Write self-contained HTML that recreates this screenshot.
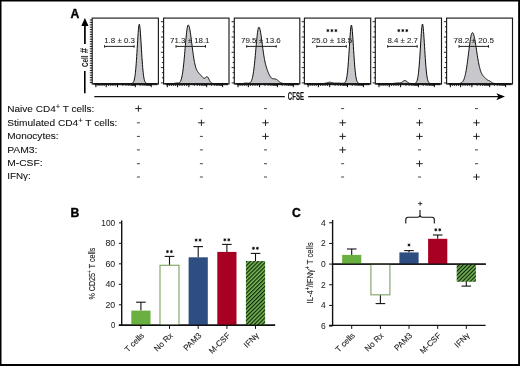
<!DOCTYPE html><html><head><meta charset="utf-8"><style>html,body{margin:0;padding:0;background:#fff;}svg{display:block;will-change:transform;}</style></head><body>
<svg width="520" height="366" viewBox="0 0 520 366" font-family='"Liberation Sans", sans-serif'>
<defs><pattern id="hatch" patternUnits="userSpaceOnUse" width="2.78" height="2.78" patternTransform="rotate(45)"><rect width="2.78" height="2.78" fill="#7cba5a"/><rect width="1.2" height="2.78" fill="#0a2405"/></pattern></defs>
<rect width="520" height="366" fill="#fff"/>
<text x="70.6" y="17.6" font-size="12.2" font-weight="bold" fill="#000" stroke="#000" stroke-width="0.35">A</text>
<path d="M84.9,18.1 L88.5,26 L81.3,26 Z" fill="#000"/>
<line x1="84.9" y1="24" x2="84.9" y2="44.0" stroke="#000" stroke-width="1.7"/>
<line x1="84.8" y1="71.1" x2="84.8" y2="93.3" stroke="#000" stroke-width="1.6"/>
<text transform="translate(87.6,67.1) rotate(-90)" font-size="9.9" font-weight="bold" fill="#1a1a1a" textLength="11.6" lengthAdjust="spacingAndGlyphs">Cell</text>
<text transform="translate(87.6,53.2) rotate(-90)" font-size="10" font-weight="bold" fill="#1a1a1a" textLength="5.4" lengthAdjust="spacingAndGlyphs">#</text>
<path d="M93.20,83.60 L93.20,83.60 L93.45,83.60 L93.70,83.60 L93.95,83.60 L94.20,83.60 L94.45,83.60 L94.70,83.60 L94.95,83.60 L95.20,83.60 L95.45,83.60 L95.70,83.60 L95.95,83.60 L96.20,83.60 L96.45,83.60 L96.70,83.60 L96.95,83.60 L97.20,83.60 L97.45,83.60 L97.70,83.60 L97.95,83.60 L98.20,83.60 L98.45,83.60 L98.70,83.60 L98.95,83.60 L99.20,83.60 L99.45,83.60 L99.70,83.60 L99.95,83.60 L100.20,83.60 L100.45,83.60 L100.70,83.60 L100.95,83.60 L101.20,83.60 L101.45,83.60 L101.70,83.60 L101.95,83.60 L102.20,83.60 L102.45,83.60 L102.70,83.60 L102.95,83.60 L103.20,83.60 L103.45,83.60 L103.70,83.60 L103.95,83.60 L104.20,83.60 L104.45,83.60 L104.70,83.60 L104.95,83.60 L105.20,83.60 L105.45,83.60 L105.70,83.60 L105.95,83.60 L106.20,83.60 L106.45,83.60 L106.70,83.60 L106.95,83.60 L107.20,83.60 L107.45,83.60 L107.70,83.60 L107.95,83.60 L108.20,83.60 L108.45,83.60 L108.70,83.60 L108.95,83.60 L109.20,83.60 L109.45,83.60 L109.70,83.60 L109.95,83.60 L110.20,83.60 L110.45,83.60 L110.70,83.60 L110.95,83.60 L111.20,83.60 L111.45,83.60 L111.70,83.60 L111.95,83.60 L112.20,83.60 L112.45,83.60 L112.70,83.60 L112.95,83.60 L113.20,83.60 L113.45,83.60 L113.70,83.60 L113.95,83.60 L114.20,83.60 L114.45,83.60 L114.70,83.60 L114.95,83.60 L115.20,83.60 L115.45,83.60 L115.70,83.60 L115.95,83.60 L116.20,83.60 L116.45,83.60 L116.70,83.60 L116.95,83.60 L117.20,83.60 L117.45,83.60 L117.70,83.60 L117.95,83.60 L118.20,83.60 L118.45,83.60 L118.70,83.60 L118.95,83.60 L119.20,83.60 L119.45,83.60 L119.70,83.60 L119.95,83.60 L120.20,83.60 L120.45,83.60 L120.70,83.60 L120.95,83.60 L121.20,83.60 L121.45,83.60 L121.70,83.60 L121.95,83.60 L122.20,83.60 L122.45,83.60 L122.70,83.60 L122.95,83.60 L123.20,83.60 L123.45,83.60 L123.70,83.60 L123.95,83.60 L124.20,83.60 L124.45,83.60 L124.70,83.60 L124.95,83.60 L125.20,83.60 L125.45,83.60 L125.70,83.60 L125.95,83.60 L126.20,83.60 L126.45,83.60 L126.70,83.60 L126.95,83.60 L127.20,83.60 L127.45,83.60 L127.70,83.60 L127.95,83.60 L128.20,83.60 L128.45,83.60 L128.70,83.60 L128.95,83.60 L129.20,83.60 L129.45,83.60 L129.70,83.60 L129.95,83.59 L130.20,83.59 L130.45,83.58 L130.70,83.57 L130.95,83.56 L131.20,83.53 L131.45,83.50 L131.70,83.46 L131.95,83.39 L132.20,83.30 L132.45,83.18 L132.70,83.01 L132.95,82.78 L133.20,82.48 L133.45,82.08 L133.70,81.57 L133.95,80.91 L134.20,80.08 L134.45,79.04 L134.70,77.77 L134.95,76.24 L135.20,74.41 L135.45,72.26 L135.70,69.77 L135.95,66.94 L136.20,63.77 L136.45,60.28 L136.70,56.52 L136.95,52.53 L137.20,48.41 L137.45,44.23 L137.70,40.13 L137.95,36.22 L138.20,32.64 L138.45,29.52 L138.70,27.01 L138.95,25.22 L139.20,24.30 L139.45,24.41 L139.70,25.52 L139.95,27.46 L140.20,30.10 L140.45,33.32 L140.70,36.98 L140.95,40.94 L141.20,45.07 L141.45,49.24 L141.70,53.34 L141.95,57.29 L142.20,61.00 L142.45,64.43 L142.70,67.53 L142.95,70.30 L143.20,72.72 L143.45,74.80 L143.70,76.57 L143.95,78.05 L144.20,79.27 L144.45,80.26 L144.70,81.05 L144.95,81.68 L145.20,82.17 L145.45,82.55 L145.70,82.83 L145.95,83.05 L146.20,83.21 L146.45,83.32 L146.70,83.41 L146.95,83.47 L147.20,83.51 L147.45,83.54 L147.70,83.56 L147.95,83.57 L148.20,83.58 L148.45,83.59 L148.70,83.59 L148.95,83.60 L149.20,83.60 L149.45,83.60 L149.70,83.60 L149.95,83.60 L150.20,83.60 L150.45,83.60 L150.70,83.60 L150.95,83.60 L151.20,83.60 L151.45,83.60 L151.70,83.60 L151.95,83.60 L152.20,83.60 L152.45,83.60 L152.70,83.60 L152.95,83.60 L153.20,83.60 L153.45,83.60 L153.70,83.60 L153.95,83.60 L154.20,83.60 L154.45,83.60 L154.70,83.60 L154.95,83.60 L155.20,83.60 L155.45,83.60 L155.70,83.60 L155.95,83.60 L156.20,83.60 L156.45,83.60 L156.70,83.60 L156.95,83.60 L157.20,83.60 L157.40,83.60 Z" fill="#c8c8cc" stroke="#000" stroke-width="0.95" stroke-linejoin="round"/>
<rect x="92.20" y="18.10" width="66.20" height="65.90" fill="none" stroke="#1a1a1a" stroke-width="1.15"/>
<line x1="89.80" y1="20.00" x2="92.20" y2="20.00" stroke="#000" stroke-width="0.9"/>
<line x1="89.80" y1="22.40" x2="92.20" y2="22.40" stroke="#000" stroke-width="0.9"/>
<line x1="89.80" y1="24.80" x2="92.20" y2="24.80" stroke="#000" stroke-width="0.9"/>
<line x1="89.80" y1="27.20" x2="92.20" y2="27.20" stroke="#000" stroke-width="0.9"/>
<line x1="89.80" y1="29.60" x2="92.20" y2="29.60" stroke="#000" stroke-width="0.9"/>
<line x1="89.80" y1="32.00" x2="92.20" y2="32.00" stroke="#000" stroke-width="0.9"/>
<line x1="89.80" y1="34.40" x2="92.20" y2="34.40" stroke="#000" stroke-width="0.9"/>
<line x1="89.80" y1="36.80" x2="92.20" y2="36.80" stroke="#000" stroke-width="0.9"/>
<line x1="89.80" y1="39.20" x2="92.20" y2="39.20" stroke="#000" stroke-width="0.9"/>
<line x1="89.80" y1="41.60" x2="92.20" y2="41.60" stroke="#000" stroke-width="0.9"/>
<line x1="89.80" y1="44.00" x2="92.20" y2="44.00" stroke="#000" stroke-width="0.9"/>
<line x1="89.80" y1="46.40" x2="92.20" y2="46.40" stroke="#000" stroke-width="0.9"/>
<line x1="89.80" y1="48.80" x2="92.20" y2="48.80" stroke="#000" stroke-width="0.9"/>
<line x1="89.80" y1="51.20" x2="92.20" y2="51.20" stroke="#000" stroke-width="0.9"/>
<line x1="89.80" y1="53.60" x2="92.20" y2="53.60" stroke="#000" stroke-width="0.9"/>
<line x1="89.80" y1="56.00" x2="92.20" y2="56.00" stroke="#000" stroke-width="0.9"/>
<line x1="89.80" y1="58.40" x2="92.20" y2="58.40" stroke="#000" stroke-width="0.9"/>
<line x1="89.80" y1="60.80" x2="92.20" y2="60.80" stroke="#000" stroke-width="0.9"/>
<line x1="89.80" y1="63.20" x2="92.20" y2="63.20" stroke="#000" stroke-width="0.9"/>
<line x1="89.80" y1="65.60" x2="92.20" y2="65.60" stroke="#000" stroke-width="0.9"/>
<line x1="89.80" y1="68.00" x2="92.20" y2="68.00" stroke="#000" stroke-width="0.9"/>
<line x1="89.80" y1="70.40" x2="92.20" y2="70.40" stroke="#000" stroke-width="0.9"/>
<line x1="89.80" y1="72.80" x2="92.20" y2="72.80" stroke="#000" stroke-width="0.9"/>
<line x1="89.80" y1="75.20" x2="92.20" y2="75.20" stroke="#000" stroke-width="0.9"/>
<line x1="89.80" y1="77.60" x2="92.20" y2="77.60" stroke="#000" stroke-width="0.9"/>
<line x1="89.80" y1="80.00" x2="92.20" y2="80.00" stroke="#000" stroke-width="0.9"/>
<line x1="89.80" y1="82.40" x2="92.20" y2="82.40" stroke="#000" stroke-width="0.9"/>
<line x1="94.70" y1="84.7" x2="157.40" y2="84.7" stroke="#000" stroke-width="0.9"/>
<line x1="95.90" y1="84.00" x2="95.90" y2="87.20" stroke="#000" stroke-width="1"/>
<line x1="106.20" y1="84.00" x2="106.20" y2="87.20" stroke="#000" stroke-width="1"/>
<line x1="117.50" y1="84.00" x2="117.50" y2="87.20" stroke="#000" stroke-width="1"/>
<line x1="135.30" y1="84.00" x2="135.30" y2="87.20" stroke="#000" stroke-width="1"/>
<line x1="151.20" y1="84.00" x2="151.20" y2="87.20" stroke="#000" stroke-width="1"/>
<line x1="122.86" y1="84.00" x2="122.86" y2="86.00" stroke="#111" stroke-width="0.8"/>
<line x1="140.09" y1="84.00" x2="140.09" y2="86.00" stroke="#111" stroke-width="0.8"/>
<line x1="125.99" y1="84.00" x2="125.99" y2="86.00" stroke="#111" stroke-width="0.8"/>
<line x1="142.89" y1="84.00" x2="142.89" y2="86.00" stroke="#111" stroke-width="0.8"/>
<line x1="128.22" y1="84.00" x2="128.22" y2="86.00" stroke="#111" stroke-width="0.8"/>
<line x1="144.87" y1="84.00" x2="144.87" y2="86.00" stroke="#111" stroke-width="0.8"/>
<line x1="129.94" y1="84.00" x2="129.94" y2="86.00" stroke="#111" stroke-width="0.8"/>
<line x1="146.41" y1="84.00" x2="146.41" y2="86.00" stroke="#111" stroke-width="0.8"/>
<line x1="131.35" y1="84.00" x2="131.35" y2="86.00" stroke="#111" stroke-width="0.8"/>
<line x1="147.67" y1="84.00" x2="147.67" y2="86.00" stroke="#111" stroke-width="0.8"/>
<line x1="132.54" y1="84.00" x2="132.54" y2="86.00" stroke="#111" stroke-width="0.8"/>
<line x1="148.74" y1="84.00" x2="148.74" y2="86.00" stroke="#111" stroke-width="0.8"/>
<line x1="133.58" y1="84.00" x2="133.58" y2="86.00" stroke="#111" stroke-width="0.8"/>
<line x1="149.66" y1="84.00" x2="149.66" y2="86.00" stroke="#111" stroke-width="0.8"/>
<line x1="134.49" y1="84.00" x2="134.49" y2="86.00" stroke="#111" stroke-width="0.8"/>
<line x1="150.47" y1="84.00" x2="150.47" y2="86.00" stroke="#111" stroke-width="0.8"/>
<line x1="97.96" y1="84.00" x2="97.96" y2="86.00" stroke="#111" stroke-width="0.8"/>
<line x1="108.46" y1="84.00" x2="108.46" y2="86.00" stroke="#111" stroke-width="0.8"/>
<line x1="100.02" y1="84.00" x2="100.02" y2="86.00" stroke="#111" stroke-width="0.8"/>
<line x1="110.72" y1="84.00" x2="110.72" y2="86.00" stroke="#111" stroke-width="0.8"/>
<line x1="102.08" y1="84.00" x2="102.08" y2="86.00" stroke="#111" stroke-width="0.8"/>
<line x1="112.98" y1="84.00" x2="112.98" y2="86.00" stroke="#111" stroke-width="0.8"/>
<line x1="104.14" y1="84.00" x2="104.14" y2="86.00" stroke="#111" stroke-width="0.8"/>
<line x1="115.24" y1="84.00" x2="115.24" y2="86.00" stroke="#111" stroke-width="0.8"/>
<line x1="104.60" y1="46.4" x2="134.10" y2="46.4" stroke="#222" stroke-width="1"/>
<line x1="104.60" y1="45.1" x2="104.60" y2="47.7" stroke="#222" stroke-width="1"/>
<line x1="134.10" y1="45.1" x2="134.10" y2="47.7" stroke="#222" stroke-width="1"/>
<text x="104.20" y="43.2" font-size="7.1" fill="#222" stroke="#222" stroke-width="0.05" textLength="30.80" lengthAdjust="spacingAndGlyphs">1.8 ± 0.3</text>
<path d="M164.60,83.60 L164.60,83.60 L164.85,83.60 L165.10,83.60 L165.35,83.60 L165.60,83.60 L165.85,83.60 L166.10,83.60 L166.35,83.60 L166.60,83.60 L166.85,83.60 L167.10,83.60 L167.35,83.60 L167.60,83.60 L167.85,83.60 L168.10,83.60 L168.35,83.60 L168.60,83.60 L168.85,83.60 L169.10,83.60 L169.35,83.60 L169.60,83.60 L169.85,83.60 L170.10,83.60 L170.35,83.60 L170.60,83.60 L170.85,83.60 L171.10,83.60 L171.35,83.60 L171.60,83.60 L171.85,83.60 L172.10,83.59 L172.35,83.59 L172.60,83.58 L172.85,83.57 L173.10,83.55 L173.35,83.53 L173.60,83.51 L173.85,83.47 L174.10,83.43 L174.35,83.38 L174.60,83.33 L174.85,83.27 L175.10,83.21 L175.35,83.15 L175.60,83.09 L175.85,83.04 L176.10,83.00 L176.35,82.98 L176.60,82.96 L176.85,82.96 L177.10,82.98 L177.35,82.99 L177.60,83.01 L177.85,83.03 L178.10,83.04 L178.35,83.02 L178.60,82.99 L178.85,82.92 L179.10,82.82 L179.35,82.68 L179.60,82.48 L179.85,82.23 L180.10,81.92 L180.35,81.52 L180.60,81.05 L180.85,80.48 L181.10,79.80 L181.35,79.01 L181.60,78.08 L181.85,77.02 L182.10,75.80 L182.35,74.41 L182.60,72.86 L182.85,71.13 L183.10,69.22 L183.35,67.13 L183.60,64.87 L183.85,62.45 L184.10,59.88 L184.35,57.17 L184.60,54.37 L184.85,51.48 L185.10,48.55 L185.35,45.62 L185.60,42.73 L185.85,39.91 L186.10,37.22 L186.35,34.70 L186.60,32.39 L186.85,30.34 L187.10,28.58 L187.35,27.15 L187.60,26.06 L187.85,25.35 L188.10,25.02 L188.35,25.00 L188.60,25.22 L188.85,25.67 L189.10,26.34 L189.35,27.23 L189.60,28.31 L189.85,29.57 L190.10,31.00 L190.35,32.57 L190.60,34.27 L190.85,36.07 L191.10,37.96 L191.35,39.90 L191.60,41.89 L191.85,43.89 L192.10,45.89 L192.35,47.87 L192.60,49.81 L192.85,51.71 L193.10,53.53 L193.35,55.29 L193.60,56.96 L193.85,58.54 L194.10,60.02 L194.35,61.40 L194.60,62.69 L194.85,63.87 L195.10,64.96 L195.35,65.95 L195.60,66.85 L195.85,67.66 L196.10,68.40 L196.35,69.06 L196.60,69.66 L196.85,70.19 L197.10,70.68 L197.35,71.11 L197.60,71.51 L197.85,71.87 L198.10,72.21 L198.35,72.53 L198.60,72.82 L198.85,73.11 L199.10,73.38 L199.35,73.65 L199.60,73.92 L199.85,74.19 L200.10,74.46 L200.35,74.73 L200.60,75.00 L200.85,75.28 L201.10,75.55 L201.35,75.84 L201.60,76.12 L201.85,76.40 L202.10,76.67 L202.35,76.94 L202.60,77.20 L202.85,77.44 L203.10,77.66 L203.35,77.84 L203.60,78.00 L203.85,78.11 L204.10,78.17 L204.35,78.18 L204.60,78.14 L204.85,78.05 L205.10,77.91 L205.35,77.73 L205.60,77.52 L205.85,77.30 L206.10,77.09 L206.35,76.90 L206.60,76.75 L206.85,76.68 L207.10,76.67 L207.35,76.76 L207.60,76.94 L207.85,77.21 L208.10,77.57 L208.35,77.99 L208.60,78.47 L208.85,78.99 L209.10,79.52 L209.35,80.05 L209.60,80.56 L209.85,81.04 L210.10,81.47 L210.35,81.86 L210.60,82.19 L210.85,82.48 L211.10,82.71 L211.35,82.90 L211.60,83.06 L211.85,83.18 L212.10,83.27 L212.35,83.34 L212.60,83.40 L212.85,83.44 L213.10,83.47 L213.35,83.50 L213.60,83.52 L213.85,83.53 L214.10,83.54 L214.35,83.55 L214.60,83.56 L214.85,83.57 L215.10,83.57 L215.35,83.58 L215.60,83.58 L215.85,83.58 L216.10,83.59 L216.35,83.59 L216.60,83.59 L216.85,83.59 L217.10,83.59 L217.35,83.59 L217.60,83.60 L217.85,83.60 L218.10,83.60 L218.35,83.60 L218.60,83.60 L218.85,83.60 L219.10,83.60 L219.35,83.60 L219.60,83.60 L219.85,83.60 L220.10,83.60 L220.35,83.60 L220.60,83.60 L220.85,83.60 L221.10,83.60 L221.35,83.60 L221.60,83.60 L221.85,83.60 L222.10,83.60 L222.35,83.60 L222.60,83.60 L222.85,83.60 L223.10,83.60 L223.35,83.60 L223.60,83.60 L223.85,83.60 L224.10,83.60 L224.35,83.60 L224.60,83.60 L224.85,83.60 L225.10,83.60 L225.35,83.60 L225.60,83.60 L225.85,83.60 L226.10,83.60 L226.35,83.60 L226.60,83.60 L226.85,83.60 L227.10,83.60 L227.35,83.60 L227.60,83.60 L227.85,83.60 L228.00,83.60 Z" fill="#c8c8cc" stroke="#000" stroke-width="0.95" stroke-linejoin="round"/>
<rect x="163.60" y="18.10" width="65.40" height="65.90" fill="none" stroke="#1a1a1a" stroke-width="1.15"/>
<line x1="160.90" y1="21.70" x2="163.60" y2="21.70" stroke="#111" stroke-width="0.9"/>
<line x1="161.90" y1="26.80" x2="163.60" y2="26.80" stroke="#111" stroke-width="0.9"/>
<line x1="161.90" y1="31.90" x2="163.60" y2="31.90" stroke="#111" stroke-width="0.9"/>
<line x1="160.90" y1="37.00" x2="163.60" y2="37.00" stroke="#111" stroke-width="0.9"/>
<line x1="161.90" y1="42.10" x2="163.60" y2="42.10" stroke="#111" stroke-width="0.9"/>
<line x1="161.90" y1="47.20" x2="163.60" y2="47.20" stroke="#111" stroke-width="0.9"/>
<line x1="160.90" y1="52.30" x2="163.60" y2="52.30" stroke="#111" stroke-width="0.9"/>
<line x1="161.90" y1="57.40" x2="163.60" y2="57.40" stroke="#111" stroke-width="0.9"/>
<line x1="161.90" y1="62.50" x2="163.60" y2="62.50" stroke="#111" stroke-width="0.9"/>
<line x1="160.90" y1="67.60" x2="163.60" y2="67.60" stroke="#111" stroke-width="0.9"/>
<line x1="161.90" y1="72.70" x2="163.60" y2="72.70" stroke="#111" stroke-width="0.9"/>
<line x1="161.90" y1="77.80" x2="163.60" y2="77.80" stroke="#111" stroke-width="0.9"/>
<line x1="160.90" y1="82.90" x2="163.60" y2="82.90" stroke="#111" stroke-width="0.9"/>
<line x1="166.10" y1="84.7" x2="228.00" y2="84.7" stroke="#000" stroke-width="0.9"/>
<line x1="167.30" y1="84.00" x2="167.30" y2="87.20" stroke="#000" stroke-width="1"/>
<line x1="177.60" y1="84.00" x2="177.60" y2="87.20" stroke="#000" stroke-width="1"/>
<line x1="188.90" y1="84.00" x2="188.90" y2="87.20" stroke="#000" stroke-width="1"/>
<line x1="206.70" y1="84.00" x2="206.70" y2="87.20" stroke="#000" stroke-width="1"/>
<line x1="222.60" y1="84.00" x2="222.60" y2="87.20" stroke="#000" stroke-width="1"/>
<line x1="194.26" y1="84.00" x2="194.26" y2="86.00" stroke="#111" stroke-width="0.8"/>
<line x1="211.49" y1="84.00" x2="211.49" y2="86.00" stroke="#111" stroke-width="0.8"/>
<line x1="197.39" y1="84.00" x2="197.39" y2="86.00" stroke="#111" stroke-width="0.8"/>
<line x1="214.29" y1="84.00" x2="214.29" y2="86.00" stroke="#111" stroke-width="0.8"/>
<line x1="199.62" y1="84.00" x2="199.62" y2="86.00" stroke="#111" stroke-width="0.8"/>
<line x1="216.27" y1="84.00" x2="216.27" y2="86.00" stroke="#111" stroke-width="0.8"/>
<line x1="201.34" y1="84.00" x2="201.34" y2="86.00" stroke="#111" stroke-width="0.8"/>
<line x1="217.81" y1="84.00" x2="217.81" y2="86.00" stroke="#111" stroke-width="0.8"/>
<line x1="202.75" y1="84.00" x2="202.75" y2="86.00" stroke="#111" stroke-width="0.8"/>
<line x1="219.07" y1="84.00" x2="219.07" y2="86.00" stroke="#111" stroke-width="0.8"/>
<line x1="203.94" y1="84.00" x2="203.94" y2="86.00" stroke="#111" stroke-width="0.8"/>
<line x1="220.14" y1="84.00" x2="220.14" y2="86.00" stroke="#111" stroke-width="0.8"/>
<line x1="204.98" y1="84.00" x2="204.98" y2="86.00" stroke="#111" stroke-width="0.8"/>
<line x1="221.06" y1="84.00" x2="221.06" y2="86.00" stroke="#111" stroke-width="0.8"/>
<line x1="205.89" y1="84.00" x2="205.89" y2="86.00" stroke="#111" stroke-width="0.8"/>
<line x1="221.87" y1="84.00" x2="221.87" y2="86.00" stroke="#111" stroke-width="0.8"/>
<line x1="169.36" y1="84.00" x2="169.36" y2="86.00" stroke="#111" stroke-width="0.8"/>
<line x1="179.86" y1="84.00" x2="179.86" y2="86.00" stroke="#111" stroke-width="0.8"/>
<line x1="171.42" y1="84.00" x2="171.42" y2="86.00" stroke="#111" stroke-width="0.8"/>
<line x1="182.12" y1="84.00" x2="182.12" y2="86.00" stroke="#111" stroke-width="0.8"/>
<line x1="173.48" y1="84.00" x2="173.48" y2="86.00" stroke="#111" stroke-width="0.8"/>
<line x1="184.38" y1="84.00" x2="184.38" y2="86.00" stroke="#111" stroke-width="0.8"/>
<line x1="175.54" y1="84.00" x2="175.54" y2="86.00" stroke="#111" stroke-width="0.8"/>
<line x1="186.64" y1="84.00" x2="186.64" y2="86.00" stroke="#111" stroke-width="0.8"/>
<line x1="176.00" y1="46.4" x2="205.50" y2="46.4" stroke="#222" stroke-width="1"/>
<line x1="176.00" y1="45.1" x2="176.00" y2="47.7" stroke="#222" stroke-width="1"/>
<line x1="205.50" y1="45.1" x2="205.50" y2="47.7" stroke="#222" stroke-width="1"/>
<text x="170.10" y="43.2" font-size="7.1" fill="#222" stroke="#222" stroke-width="0.05" textLength="39.40" lengthAdjust="spacingAndGlyphs">71.3 ± 18.1</text>
<path d="M235.30,83.60 L235.30,83.60 L235.55,83.60 L235.80,83.60 L236.05,83.60 L236.30,83.60 L236.55,83.60 L236.80,83.60 L237.05,83.60 L237.30,83.60 L237.55,83.60 L237.80,83.60 L238.05,83.60 L238.30,83.60 L238.55,83.60 L238.80,83.60 L239.05,83.60 L239.30,83.60 L239.55,83.60 L239.80,83.60 L240.05,83.59 L240.30,83.59 L240.55,83.59 L240.80,83.58 L241.05,83.58 L241.30,83.57 L241.55,83.56 L241.80,83.54 L242.05,83.53 L242.30,83.51 L242.55,83.49 L242.80,83.46 L243.05,83.43 L243.30,83.40 L243.55,83.36 L243.80,83.33 L244.05,83.29 L244.30,83.25 L244.55,83.21 L244.80,83.18 L245.05,83.15 L245.30,83.13 L245.55,83.11 L245.80,83.10 L246.05,83.09 L246.30,83.10 L246.55,83.11 L246.80,83.12 L247.05,83.14 L247.30,83.16 L247.55,83.18 L247.80,83.20 L248.05,83.21 L248.30,83.22 L248.55,83.22 L248.80,83.20 L249.05,83.16 L249.30,83.10 L249.55,83.02 L249.80,82.90 L250.05,82.75 L250.30,82.55 L250.55,82.29 L250.80,81.98 L251.05,81.60 L251.30,81.14 L251.55,80.59 L251.80,79.94 L252.05,79.17 L252.30,78.28 L252.55,77.25 L252.80,76.07 L253.05,74.74 L253.30,73.24 L253.55,71.57 L253.80,69.73 L254.05,67.71 L254.30,65.54 L254.55,63.20 L254.80,60.72 L255.05,58.11 L255.30,55.41 L255.55,52.63 L255.80,49.81 L256.05,46.99 L256.30,44.21 L256.55,41.50 L256.80,38.92 L257.05,36.50 L257.30,34.29 L257.55,32.33 L257.80,30.64 L258.05,29.27 L258.30,28.24 L258.55,27.56 L258.80,27.25 L259.05,27.25 L259.30,27.50 L259.55,28.00 L259.80,28.73 L260.05,29.68 L260.30,30.83 L260.55,32.16 L260.80,33.65 L261.05,35.27 L261.30,37.00 L261.55,38.82 L261.80,40.69 L262.05,42.60 L262.30,44.52 L262.55,46.43 L262.80,48.32 L263.05,50.16 L263.30,51.93 L263.55,53.64 L263.80,55.27 L264.05,56.82 L264.30,58.27 L264.55,59.64 L264.80,60.92 L265.05,62.11 L265.30,63.23 L265.55,64.27 L265.80,65.24 L266.05,66.15 L266.30,67.01 L266.55,67.82 L266.80,68.59 L267.05,69.32 L267.30,70.03 L267.55,70.70 L267.80,71.35 L268.05,71.99 L268.30,72.60 L268.55,73.18 L268.80,73.75 L269.05,74.30 L269.30,74.82 L269.55,75.31 L269.80,75.78 L270.05,76.21 L270.30,76.61 L270.55,76.97 L270.80,77.30 L271.05,77.60 L271.30,77.85 L271.55,78.07 L271.80,78.25 L272.05,78.40 L272.30,78.52 L272.55,78.61 L272.80,78.68 L273.05,78.72 L273.30,78.76 L273.55,78.78 L273.80,78.79 L274.05,78.80 L274.30,78.82 L274.55,78.84 L274.80,78.87 L275.05,78.91 L275.30,78.97 L275.55,79.04 L275.80,79.13 L276.05,79.24 L276.30,79.37 L276.55,79.52 L276.80,79.68 L277.05,79.86 L277.30,80.05 L277.55,80.25 L277.80,80.46 L278.05,80.67 L278.30,80.89 L278.55,81.10 L278.80,81.31 L279.05,81.52 L279.30,81.72 L279.55,81.91 L279.80,82.10 L280.05,82.27 L280.30,82.43 L280.55,82.57 L280.80,82.71 L281.05,82.83 L281.30,82.94 L281.55,83.04 L281.80,83.12 L282.05,83.20 L282.30,83.26 L282.55,83.32 L282.80,83.37 L283.05,83.41 L283.30,83.45 L283.55,83.48 L283.80,83.50 L284.05,83.52 L284.30,83.54 L284.55,83.55 L284.80,83.56 L285.05,83.57 L285.30,83.58 L285.55,83.58 L285.80,83.59 L286.05,83.59 L286.30,83.59 L286.55,83.59 L286.80,83.60 L287.05,83.60 L287.30,83.60 L287.55,83.60 L287.80,83.60 L288.05,83.60 L288.30,83.60 L288.55,83.60 L288.80,83.60 L289.05,83.60 L289.30,83.60 L289.55,83.60 L289.80,83.60 L290.05,83.60 L290.30,83.60 L290.55,83.60 L290.80,83.60 L291.05,83.60 L291.30,83.60 L291.55,83.60 L291.80,83.60 L292.05,83.60 L292.30,83.60 L292.55,83.60 L292.80,83.60 L293.05,83.60 L293.30,83.60 L293.55,83.60 L293.80,83.60 L294.05,83.60 L294.30,83.60 L294.55,83.60 L294.80,83.60 L295.05,83.60 L295.30,83.60 L295.55,83.60 L295.80,83.60 L296.05,83.60 L296.30,83.60 L296.55,83.60 L296.80,83.60 L297.05,83.60 L297.30,83.60 L297.55,83.60 L297.80,83.60 L298.05,83.60 L298.30,83.60 L298.55,83.60 L298.80,83.60 L298.80,83.60 Z" fill="#c8c8cc" stroke="#000" stroke-width="0.95" stroke-linejoin="round"/>
<rect x="234.30" y="18.10" width="65.50" height="65.90" fill="none" stroke="#1a1a1a" stroke-width="1.15"/>
<line x1="231.60" y1="21.70" x2="234.30" y2="21.70" stroke="#111" stroke-width="0.9"/>
<line x1="232.60" y1="26.80" x2="234.30" y2="26.80" stroke="#111" stroke-width="0.9"/>
<line x1="232.60" y1="31.90" x2="234.30" y2="31.90" stroke="#111" stroke-width="0.9"/>
<line x1="231.60" y1="37.00" x2="234.30" y2="37.00" stroke="#111" stroke-width="0.9"/>
<line x1="232.60" y1="42.10" x2="234.30" y2="42.10" stroke="#111" stroke-width="0.9"/>
<line x1="232.60" y1="47.20" x2="234.30" y2="47.20" stroke="#111" stroke-width="0.9"/>
<line x1="231.60" y1="52.30" x2="234.30" y2="52.30" stroke="#111" stroke-width="0.9"/>
<line x1="232.60" y1="57.40" x2="234.30" y2="57.40" stroke="#111" stroke-width="0.9"/>
<line x1="232.60" y1="62.50" x2="234.30" y2="62.50" stroke="#111" stroke-width="0.9"/>
<line x1="231.60" y1="67.60" x2="234.30" y2="67.60" stroke="#111" stroke-width="0.9"/>
<line x1="232.60" y1="72.70" x2="234.30" y2="72.70" stroke="#111" stroke-width="0.9"/>
<line x1="232.60" y1="77.80" x2="234.30" y2="77.80" stroke="#111" stroke-width="0.9"/>
<line x1="231.60" y1="82.90" x2="234.30" y2="82.90" stroke="#111" stroke-width="0.9"/>
<line x1="236.80" y1="84.7" x2="298.80" y2="84.7" stroke="#000" stroke-width="0.9"/>
<line x1="238.00" y1="84.00" x2="238.00" y2="87.20" stroke="#000" stroke-width="1"/>
<line x1="248.30" y1="84.00" x2="248.30" y2="87.20" stroke="#000" stroke-width="1"/>
<line x1="259.60" y1="84.00" x2="259.60" y2="87.20" stroke="#000" stroke-width="1"/>
<line x1="277.40" y1="84.00" x2="277.40" y2="87.20" stroke="#000" stroke-width="1"/>
<line x1="293.30" y1="84.00" x2="293.30" y2="87.20" stroke="#000" stroke-width="1"/>
<line x1="264.96" y1="84.00" x2="264.96" y2="86.00" stroke="#111" stroke-width="0.8"/>
<line x1="282.19" y1="84.00" x2="282.19" y2="86.00" stroke="#111" stroke-width="0.8"/>
<line x1="268.09" y1="84.00" x2="268.09" y2="86.00" stroke="#111" stroke-width="0.8"/>
<line x1="284.99" y1="84.00" x2="284.99" y2="86.00" stroke="#111" stroke-width="0.8"/>
<line x1="270.32" y1="84.00" x2="270.32" y2="86.00" stroke="#111" stroke-width="0.8"/>
<line x1="286.97" y1="84.00" x2="286.97" y2="86.00" stroke="#111" stroke-width="0.8"/>
<line x1="272.04" y1="84.00" x2="272.04" y2="86.00" stroke="#111" stroke-width="0.8"/>
<line x1="288.51" y1="84.00" x2="288.51" y2="86.00" stroke="#111" stroke-width="0.8"/>
<line x1="273.45" y1="84.00" x2="273.45" y2="86.00" stroke="#111" stroke-width="0.8"/>
<line x1="289.77" y1="84.00" x2="289.77" y2="86.00" stroke="#111" stroke-width="0.8"/>
<line x1="274.64" y1="84.00" x2="274.64" y2="86.00" stroke="#111" stroke-width="0.8"/>
<line x1="290.84" y1="84.00" x2="290.84" y2="86.00" stroke="#111" stroke-width="0.8"/>
<line x1="275.68" y1="84.00" x2="275.68" y2="86.00" stroke="#111" stroke-width="0.8"/>
<line x1="291.76" y1="84.00" x2="291.76" y2="86.00" stroke="#111" stroke-width="0.8"/>
<line x1="276.59" y1="84.00" x2="276.59" y2="86.00" stroke="#111" stroke-width="0.8"/>
<line x1="292.57" y1="84.00" x2="292.57" y2="86.00" stroke="#111" stroke-width="0.8"/>
<line x1="240.06" y1="84.00" x2="240.06" y2="86.00" stroke="#111" stroke-width="0.8"/>
<line x1="250.56" y1="84.00" x2="250.56" y2="86.00" stroke="#111" stroke-width="0.8"/>
<line x1="242.12" y1="84.00" x2="242.12" y2="86.00" stroke="#111" stroke-width="0.8"/>
<line x1="252.82" y1="84.00" x2="252.82" y2="86.00" stroke="#111" stroke-width="0.8"/>
<line x1="244.18" y1="84.00" x2="244.18" y2="86.00" stroke="#111" stroke-width="0.8"/>
<line x1="255.08" y1="84.00" x2="255.08" y2="86.00" stroke="#111" stroke-width="0.8"/>
<line x1="246.24" y1="84.00" x2="246.24" y2="86.00" stroke="#111" stroke-width="0.8"/>
<line x1="257.34" y1="84.00" x2="257.34" y2="86.00" stroke="#111" stroke-width="0.8"/>
<line x1="246.70" y1="46.4" x2="276.20" y2="46.4" stroke="#222" stroke-width="1"/>
<line x1="246.70" y1="45.1" x2="246.70" y2="47.7" stroke="#222" stroke-width="1"/>
<line x1="276.20" y1="45.1" x2="276.20" y2="47.7" stroke="#222" stroke-width="1"/>
<text x="241.00" y="43.2" font-size="7.1" fill="#222" stroke="#222" stroke-width="0.05" textLength="39.80" lengthAdjust="spacingAndGlyphs">79.5 ± 13.6</text>
<path d="M305.40,83.60 L305.40,83.60 L305.65,83.60 L305.90,83.60 L306.15,83.60 L306.40,83.60 L306.65,83.60 L306.90,83.60 L307.15,83.60 L307.40,83.60 L307.65,83.60 L307.90,83.60 L308.15,83.60 L308.40,83.60 L308.65,83.60 L308.90,83.60 L309.15,83.60 L309.40,83.60 L309.65,83.60 L309.90,83.60 L310.15,83.60 L310.40,83.60 L310.65,83.60 L310.90,83.60 L311.15,83.60 L311.40,83.60 L311.65,83.60 L311.90,83.60 L312.15,83.60 L312.40,83.60 L312.65,83.60 L312.90,83.60 L313.15,83.60 L313.40,83.60 L313.65,83.60 L313.90,83.60 L314.15,83.60 L314.40,83.60 L314.65,83.60 L314.90,83.60 L315.15,83.60 L315.40,83.60 L315.65,83.60 L315.90,83.60 L316.15,83.60 L316.40,83.60 L316.65,83.60 L316.90,83.60 L317.15,83.60 L317.40,83.60 L317.65,83.60 L317.90,83.60 L318.15,83.60 L318.40,83.60 L318.65,83.60 L318.90,83.60 L319.15,83.60 L319.40,83.60 L319.65,83.60 L319.90,83.60 L320.15,83.60 L320.40,83.60 L320.65,83.60 L320.90,83.60 L321.15,83.60 L321.40,83.59 L321.65,83.59 L321.90,83.59 L322.15,83.58 L322.40,83.58 L322.65,83.57 L322.90,83.56 L323.15,83.55 L323.40,83.53 L323.65,83.52 L323.90,83.49 L324.15,83.47 L324.40,83.44 L324.65,83.40 L324.90,83.36 L325.15,83.31 L325.40,83.26 L325.65,83.20 L325.90,83.13 L326.15,83.06 L326.40,82.99 L326.65,82.91 L326.90,82.83 L327.15,82.75 L327.40,82.67 L327.65,82.59 L327.90,82.52 L328.15,82.45 L328.40,82.39 L328.65,82.34 L328.90,82.30 L329.15,82.27 L329.40,82.25 L329.65,82.25 L329.90,82.25 L330.15,82.27 L330.40,82.30 L330.65,82.34 L330.90,82.39 L331.15,82.44 L331.40,82.50 L331.65,82.56 L331.90,82.62 L332.15,82.69 L332.40,82.75 L332.65,82.81 L332.90,82.86 L333.15,82.91 L333.40,82.96 L333.65,83.00 L333.90,83.03 L334.15,83.05 L334.40,83.08 L334.65,83.09 L334.90,83.10 L335.15,83.11 L335.40,83.11 L335.65,83.12 L335.90,83.12 L336.15,83.11 L336.40,83.11 L336.65,83.11 L336.90,83.10 L337.15,83.10 L337.40,83.10 L337.65,83.10 L337.90,83.10 L338.15,83.10 L338.40,83.10 L338.65,83.10 L338.90,83.11 L339.15,83.12 L339.40,83.13 L339.65,83.14 L339.90,83.15 L340.15,83.17 L340.40,83.18 L340.65,83.20 L340.90,83.21 L341.15,83.23 L341.40,83.25 L341.65,83.26 L341.90,83.28 L342.15,83.29 L342.40,83.31 L342.65,83.31 L342.90,83.32 L343.15,83.31 L343.40,83.30 L343.65,83.27 L343.90,83.22 L344.15,83.14 L344.40,83.04 L344.65,82.88 L344.90,82.67 L345.15,82.39 L345.40,82.02 L345.65,81.54 L345.90,80.93 L346.15,80.15 L346.40,79.19 L346.65,78.01 L346.90,76.58 L347.15,74.87 L347.40,72.87 L347.65,70.56 L347.90,67.92 L348.15,64.96 L348.40,61.69 L348.65,58.15 L348.90,54.38 L349.15,50.45 L349.40,46.44 L349.65,42.45 L349.90,38.58 L350.15,34.97 L350.40,31.73 L350.65,29.00 L350.90,26.88 L351.15,25.51 L351.40,25.00 L351.65,25.51 L351.90,26.89 L352.15,29.00 L352.40,31.74 L352.65,34.97 L352.90,38.59 L353.15,42.45 L353.40,46.45 L353.65,50.46 L353.90,54.39 L354.15,58.16 L354.40,61.71 L354.65,64.98 L354.90,67.94 L355.15,70.58 L355.40,72.90 L355.65,74.91 L355.90,76.62 L356.15,78.05 L356.40,79.24 L356.65,80.22 L356.90,81.00 L357.15,81.62 L357.40,82.11 L357.65,82.50 L357.90,82.79 L358.15,83.01 L358.40,83.17 L358.65,83.30 L358.90,83.39 L359.15,83.45 L359.40,83.50 L359.65,83.53 L359.90,83.55 L360.15,83.57 L360.40,83.58 L360.65,83.59 L360.90,83.59 L361.15,83.59 L361.40,83.60 L361.65,83.60 L361.90,83.60 L362.15,83.60 L362.40,83.60 L362.65,83.60 L362.90,83.60 L363.15,83.60 L363.40,83.60 L363.65,83.60 L363.90,83.60 L364.15,83.60 L364.40,83.60 L364.65,83.60 L364.90,83.60 L365.15,83.60 L365.40,83.60 L365.65,83.60 L365.90,83.60 L366.15,83.60 L366.40,83.60 L366.65,83.60 L366.90,83.60 L367.15,83.60 L367.40,83.60 L367.65,83.60 L367.90,83.60 L368.15,83.60 L368.40,83.60 L368.65,83.60 L368.90,83.60 L369.15,83.60 L369.40,83.60 L369.65,83.60 L369.70,83.60 Z" fill="#c8c8cc" stroke="#000" stroke-width="0.95" stroke-linejoin="round"/>
<rect x="304.40" y="18.10" width="66.30" height="65.90" fill="none" stroke="#1a1a1a" stroke-width="1.15"/>
<line x1="301.70" y1="21.70" x2="304.40" y2="21.70" stroke="#111" stroke-width="0.9"/>
<line x1="302.70" y1="26.80" x2="304.40" y2="26.80" stroke="#111" stroke-width="0.9"/>
<line x1="302.70" y1="31.90" x2="304.40" y2="31.90" stroke="#111" stroke-width="0.9"/>
<line x1="301.70" y1="37.00" x2="304.40" y2="37.00" stroke="#111" stroke-width="0.9"/>
<line x1="302.70" y1="42.10" x2="304.40" y2="42.10" stroke="#111" stroke-width="0.9"/>
<line x1="302.70" y1="47.20" x2="304.40" y2="47.20" stroke="#111" stroke-width="0.9"/>
<line x1="301.70" y1="52.30" x2="304.40" y2="52.30" stroke="#111" stroke-width="0.9"/>
<line x1="302.70" y1="57.40" x2="304.40" y2="57.40" stroke="#111" stroke-width="0.9"/>
<line x1="302.70" y1="62.50" x2="304.40" y2="62.50" stroke="#111" stroke-width="0.9"/>
<line x1="301.70" y1="67.60" x2="304.40" y2="67.60" stroke="#111" stroke-width="0.9"/>
<line x1="302.70" y1="72.70" x2="304.40" y2="72.70" stroke="#111" stroke-width="0.9"/>
<line x1="302.70" y1="77.80" x2="304.40" y2="77.80" stroke="#111" stroke-width="0.9"/>
<line x1="301.70" y1="82.90" x2="304.40" y2="82.90" stroke="#111" stroke-width="0.9"/>
<line x1="306.90" y1="84.7" x2="369.70" y2="84.7" stroke="#000" stroke-width="0.9"/>
<line x1="308.10" y1="84.00" x2="308.10" y2="87.20" stroke="#000" stroke-width="1"/>
<line x1="318.40" y1="84.00" x2="318.40" y2="87.20" stroke="#000" stroke-width="1"/>
<line x1="329.70" y1="84.00" x2="329.70" y2="87.20" stroke="#000" stroke-width="1"/>
<line x1="347.50" y1="84.00" x2="347.50" y2="87.20" stroke="#000" stroke-width="1"/>
<line x1="363.40" y1="84.00" x2="363.40" y2="87.20" stroke="#000" stroke-width="1"/>
<line x1="335.06" y1="84.00" x2="335.06" y2="86.00" stroke="#111" stroke-width="0.8"/>
<line x1="352.29" y1="84.00" x2="352.29" y2="86.00" stroke="#111" stroke-width="0.8"/>
<line x1="338.19" y1="84.00" x2="338.19" y2="86.00" stroke="#111" stroke-width="0.8"/>
<line x1="355.09" y1="84.00" x2="355.09" y2="86.00" stroke="#111" stroke-width="0.8"/>
<line x1="340.42" y1="84.00" x2="340.42" y2="86.00" stroke="#111" stroke-width="0.8"/>
<line x1="357.07" y1="84.00" x2="357.07" y2="86.00" stroke="#111" stroke-width="0.8"/>
<line x1="342.14" y1="84.00" x2="342.14" y2="86.00" stroke="#111" stroke-width="0.8"/>
<line x1="358.61" y1="84.00" x2="358.61" y2="86.00" stroke="#111" stroke-width="0.8"/>
<line x1="343.55" y1="84.00" x2="343.55" y2="86.00" stroke="#111" stroke-width="0.8"/>
<line x1="359.87" y1="84.00" x2="359.87" y2="86.00" stroke="#111" stroke-width="0.8"/>
<line x1="344.74" y1="84.00" x2="344.74" y2="86.00" stroke="#111" stroke-width="0.8"/>
<line x1="360.94" y1="84.00" x2="360.94" y2="86.00" stroke="#111" stroke-width="0.8"/>
<line x1="345.78" y1="84.00" x2="345.78" y2="86.00" stroke="#111" stroke-width="0.8"/>
<line x1="361.86" y1="84.00" x2="361.86" y2="86.00" stroke="#111" stroke-width="0.8"/>
<line x1="346.69" y1="84.00" x2="346.69" y2="86.00" stroke="#111" stroke-width="0.8"/>
<line x1="362.67" y1="84.00" x2="362.67" y2="86.00" stroke="#111" stroke-width="0.8"/>
<line x1="310.16" y1="84.00" x2="310.16" y2="86.00" stroke="#111" stroke-width="0.8"/>
<line x1="320.66" y1="84.00" x2="320.66" y2="86.00" stroke="#111" stroke-width="0.8"/>
<line x1="312.22" y1="84.00" x2="312.22" y2="86.00" stroke="#111" stroke-width="0.8"/>
<line x1="322.92" y1="84.00" x2="322.92" y2="86.00" stroke="#111" stroke-width="0.8"/>
<line x1="314.28" y1="84.00" x2="314.28" y2="86.00" stroke="#111" stroke-width="0.8"/>
<line x1="325.18" y1="84.00" x2="325.18" y2="86.00" stroke="#111" stroke-width="0.8"/>
<line x1="316.34" y1="84.00" x2="316.34" y2="86.00" stroke="#111" stroke-width="0.8"/>
<line x1="327.44" y1="84.00" x2="327.44" y2="86.00" stroke="#111" stroke-width="0.8"/>
<line x1="316.80" y1="46.4" x2="346.30" y2="46.4" stroke="#222" stroke-width="1"/>
<line x1="316.80" y1="45.1" x2="316.80" y2="47.7" stroke="#222" stroke-width="1"/>
<line x1="346.30" y1="45.1" x2="346.30" y2="47.7" stroke="#222" stroke-width="1"/>
<text x="311.60" y="43.2" font-size="7.1" fill="#222" stroke="#222" stroke-width="0.05" textLength="40.70" lengthAdjust="spacingAndGlyphs">25.0 ± 18.5</text>
<circle cx="327.90" cy="30.60" r="1.02" fill="#111"/><path d="M327.90,29.04 L327.90,32.16 M326.55,29.82 L329.25,31.38 M326.55,31.38 L329.25,29.82" stroke="#111" stroke-width="0.7"/><circle cx="331.90" cy="30.60" r="1.02" fill="#111"/><path d="M331.90,29.04 L331.90,32.16 M330.55,29.82 L333.25,31.38 M330.55,31.38 L333.25,29.82" stroke="#111" stroke-width="0.7"/><circle cx="335.90" cy="30.60" r="1.02" fill="#111"/><path d="M335.90,29.04 L335.90,32.16 M334.55,29.82 L337.25,31.38 M334.55,31.38 L337.25,29.82" stroke="#111" stroke-width="0.7"/>
<path d="M376.30,83.60 L376.30,83.60 L376.55,83.60 L376.80,83.60 L377.05,83.60 L377.30,83.60 L377.55,83.60 L377.80,83.60 L378.05,83.60 L378.30,83.60 L378.55,83.60 L378.80,83.60 L379.05,83.60 L379.30,83.60 L379.55,83.60 L379.80,83.60 L380.05,83.60 L380.30,83.60 L380.55,83.60 L380.80,83.60 L381.05,83.60 L381.30,83.60 L381.55,83.60 L381.80,83.60 L382.05,83.60 L382.30,83.60 L382.55,83.60 L382.80,83.60 L383.05,83.60 L383.30,83.60 L383.55,83.60 L383.80,83.60 L384.05,83.60 L384.30,83.60 L384.55,83.60 L384.80,83.60 L385.05,83.60 L385.30,83.60 L385.55,83.60 L385.80,83.60 L386.05,83.60 L386.30,83.60 L386.55,83.60 L386.80,83.60 L387.05,83.60 L387.30,83.60 L387.55,83.60 L387.80,83.60 L388.05,83.60 L388.30,83.60 L388.55,83.60 L388.80,83.59 L389.05,83.59 L389.30,83.59 L389.55,83.59 L389.80,83.59 L390.05,83.58 L390.30,83.58 L390.55,83.57 L390.80,83.57 L391.05,83.56 L391.30,83.55 L391.55,83.54 L391.80,83.53 L392.05,83.52 L392.30,83.50 L392.55,83.48 L392.80,83.47 L393.05,83.45 L393.30,83.42 L393.55,83.40 L393.80,83.37 L394.05,83.35 L394.30,83.32 L394.55,83.29 L394.80,83.26 L395.05,83.23 L395.30,83.20 L395.55,83.17 L395.80,83.14 L396.05,83.11 L396.30,83.09 L396.55,83.06 L396.80,83.04 L397.05,83.02 L397.30,83.01 L397.55,83.00 L397.80,82.98 L398.05,82.98 L398.30,82.97 L398.55,82.96 L398.80,82.96 L399.05,82.95 L399.30,82.94 L399.55,82.92 L399.80,82.89 L400.05,82.86 L400.30,82.82 L400.55,82.76 L400.80,82.68 L401.05,82.59 L401.30,82.49 L401.55,82.36 L401.80,82.22 L402.05,82.06 L402.30,81.89 L402.55,81.71 L402.80,81.53 L403.05,81.35 L403.30,81.17 L403.55,81.01 L403.80,80.86 L404.05,80.74 L404.30,80.64 L404.55,80.58 L404.80,80.56 L405.05,80.57 L405.30,80.62 L405.55,80.70 L405.80,80.82 L406.05,80.97 L406.30,81.14 L406.55,81.33 L406.80,81.53 L407.05,81.73 L407.30,81.94 L407.55,82.14 L407.80,82.34 L408.05,82.52 L408.30,82.69 L408.55,82.84 L408.80,82.98 L409.05,83.09 L409.30,83.19 L409.55,83.28 L409.80,83.35 L410.05,83.41 L410.30,83.45 L410.55,83.49 L410.80,83.52 L411.05,83.54 L411.30,83.56 L411.55,83.57 L411.80,83.58 L412.05,83.58 L412.30,83.59 L412.55,83.59 L412.80,83.59 L413.05,83.59 L413.30,83.58 L413.55,83.58 L413.80,83.56 L414.05,83.55 L414.30,83.52 L414.55,83.49 L414.80,83.44 L415.05,83.37 L415.30,83.27 L415.55,83.14 L415.80,82.96 L416.05,82.72 L416.30,82.41 L416.55,82.00 L416.80,81.47 L417.05,80.81 L417.30,79.98 L417.55,78.95 L417.80,77.69 L418.05,76.17 L418.30,74.38 L418.55,72.28 L418.80,69.85 L419.05,67.10 L419.30,64.02 L419.55,60.64 L419.80,56.98 L420.05,53.11 L420.30,49.08 L420.55,45.00 L420.80,40.95 L421.05,37.06 L421.30,33.45 L421.55,30.25 L421.80,27.58 L422.05,25.58 L422.30,24.34 L422.55,24.02 L422.80,24.73 L423.05,26.29 L423.30,28.58 L423.55,31.47 L423.80,34.85 L424.05,38.59 L424.30,42.56 L424.55,46.63 L424.80,50.71 L425.05,54.68 L425.30,58.47 L425.55,62.02 L425.80,65.29 L426.05,68.24 L426.30,70.86 L426.55,73.15 L426.80,75.13 L427.05,76.81 L427.30,78.22 L427.55,79.38 L427.80,80.33 L428.05,81.09 L428.30,81.70 L428.55,82.17 L428.80,82.54 L429.05,82.82 L429.30,83.04 L429.55,83.20 L429.80,83.31 L430.05,83.40 L430.30,83.46 L430.55,83.50 L430.80,83.53 L431.05,83.56 L431.30,83.57 L431.55,83.58 L431.80,83.59 L432.05,83.59 L432.30,83.59 L432.55,83.60 L432.80,83.60 L433.05,83.60 L433.30,83.60 L433.55,83.60 L433.80,83.60 L434.05,83.60 L434.30,83.60 L434.55,83.60 L434.80,83.60 L435.05,83.60 L435.30,83.60 L435.55,83.60 L435.80,83.60 L436.05,83.60 L436.30,83.60 L436.55,83.60 L436.80,83.60 L437.05,83.60 L437.30,83.60 L437.55,83.60 L437.80,83.60 L438.05,83.60 L438.30,83.60 L438.55,83.60 L438.80,83.60 L439.05,83.60 L439.30,83.60 L439.55,83.60 L439.80,83.60 L440.05,83.60 L440.30,83.60 L440.50,83.60 Z" fill="#c8c8cc" stroke="#000" stroke-width="0.95" stroke-linejoin="round"/>
<rect x="375.30" y="18.10" width="66.20" height="65.90" fill="none" stroke="#1a1a1a" stroke-width="1.15"/>
<line x1="372.60" y1="21.70" x2="375.30" y2="21.70" stroke="#111" stroke-width="0.9"/>
<line x1="373.60" y1="26.80" x2="375.30" y2="26.80" stroke="#111" stroke-width="0.9"/>
<line x1="373.60" y1="31.90" x2="375.30" y2="31.90" stroke="#111" stroke-width="0.9"/>
<line x1="372.60" y1="37.00" x2="375.30" y2="37.00" stroke="#111" stroke-width="0.9"/>
<line x1="373.60" y1="42.10" x2="375.30" y2="42.10" stroke="#111" stroke-width="0.9"/>
<line x1="373.60" y1="47.20" x2="375.30" y2="47.20" stroke="#111" stroke-width="0.9"/>
<line x1="372.60" y1="52.30" x2="375.30" y2="52.30" stroke="#111" stroke-width="0.9"/>
<line x1="373.60" y1="57.40" x2="375.30" y2="57.40" stroke="#111" stroke-width="0.9"/>
<line x1="373.60" y1="62.50" x2="375.30" y2="62.50" stroke="#111" stroke-width="0.9"/>
<line x1="372.60" y1="67.60" x2="375.30" y2="67.60" stroke="#111" stroke-width="0.9"/>
<line x1="373.60" y1="72.70" x2="375.30" y2="72.70" stroke="#111" stroke-width="0.9"/>
<line x1="373.60" y1="77.80" x2="375.30" y2="77.80" stroke="#111" stroke-width="0.9"/>
<line x1="372.60" y1="82.90" x2="375.30" y2="82.90" stroke="#111" stroke-width="0.9"/>
<line x1="377.80" y1="84.7" x2="440.50" y2="84.7" stroke="#000" stroke-width="0.9"/>
<line x1="379.00" y1="84.00" x2="379.00" y2="87.20" stroke="#000" stroke-width="1"/>
<line x1="389.30" y1="84.00" x2="389.30" y2="87.20" stroke="#000" stroke-width="1"/>
<line x1="400.60" y1="84.00" x2="400.60" y2="87.20" stroke="#000" stroke-width="1"/>
<line x1="418.40" y1="84.00" x2="418.40" y2="87.20" stroke="#000" stroke-width="1"/>
<line x1="434.30" y1="84.00" x2="434.30" y2="87.20" stroke="#000" stroke-width="1"/>
<line x1="405.96" y1="84.00" x2="405.96" y2="86.00" stroke="#111" stroke-width="0.8"/>
<line x1="423.19" y1="84.00" x2="423.19" y2="86.00" stroke="#111" stroke-width="0.8"/>
<line x1="409.09" y1="84.00" x2="409.09" y2="86.00" stroke="#111" stroke-width="0.8"/>
<line x1="425.99" y1="84.00" x2="425.99" y2="86.00" stroke="#111" stroke-width="0.8"/>
<line x1="411.32" y1="84.00" x2="411.32" y2="86.00" stroke="#111" stroke-width="0.8"/>
<line x1="427.97" y1="84.00" x2="427.97" y2="86.00" stroke="#111" stroke-width="0.8"/>
<line x1="413.04" y1="84.00" x2="413.04" y2="86.00" stroke="#111" stroke-width="0.8"/>
<line x1="429.51" y1="84.00" x2="429.51" y2="86.00" stroke="#111" stroke-width="0.8"/>
<line x1="414.45" y1="84.00" x2="414.45" y2="86.00" stroke="#111" stroke-width="0.8"/>
<line x1="430.77" y1="84.00" x2="430.77" y2="86.00" stroke="#111" stroke-width="0.8"/>
<line x1="415.64" y1="84.00" x2="415.64" y2="86.00" stroke="#111" stroke-width="0.8"/>
<line x1="431.84" y1="84.00" x2="431.84" y2="86.00" stroke="#111" stroke-width="0.8"/>
<line x1="416.68" y1="84.00" x2="416.68" y2="86.00" stroke="#111" stroke-width="0.8"/>
<line x1="432.76" y1="84.00" x2="432.76" y2="86.00" stroke="#111" stroke-width="0.8"/>
<line x1="417.59" y1="84.00" x2="417.59" y2="86.00" stroke="#111" stroke-width="0.8"/>
<line x1="433.57" y1="84.00" x2="433.57" y2="86.00" stroke="#111" stroke-width="0.8"/>
<line x1="381.06" y1="84.00" x2="381.06" y2="86.00" stroke="#111" stroke-width="0.8"/>
<line x1="391.56" y1="84.00" x2="391.56" y2="86.00" stroke="#111" stroke-width="0.8"/>
<line x1="383.12" y1="84.00" x2="383.12" y2="86.00" stroke="#111" stroke-width="0.8"/>
<line x1="393.82" y1="84.00" x2="393.82" y2="86.00" stroke="#111" stroke-width="0.8"/>
<line x1="385.18" y1="84.00" x2="385.18" y2="86.00" stroke="#111" stroke-width="0.8"/>
<line x1="396.08" y1="84.00" x2="396.08" y2="86.00" stroke="#111" stroke-width="0.8"/>
<line x1="387.24" y1="84.00" x2="387.24" y2="86.00" stroke="#111" stroke-width="0.8"/>
<line x1="398.34" y1="84.00" x2="398.34" y2="86.00" stroke="#111" stroke-width="0.8"/>
<line x1="387.70" y1="46.4" x2="417.20" y2="46.4" stroke="#222" stroke-width="1"/>
<line x1="387.70" y1="45.1" x2="387.70" y2="47.7" stroke="#222" stroke-width="1"/>
<line x1="417.20" y1="45.1" x2="417.20" y2="47.7" stroke="#222" stroke-width="1"/>
<text x="387.40" y="43.2" font-size="7.1" fill="#222" stroke="#222" stroke-width="0.05" textLength="30.50" lengthAdjust="spacingAndGlyphs">8.4 ± 2.7</text>
<circle cx="398.80" cy="30.60" r="1.02" fill="#111"/><path d="M398.80,29.04 L398.80,32.16 M397.45,29.82 L400.15,31.38 M397.45,31.38 L400.15,29.82" stroke="#111" stroke-width="0.7"/><circle cx="402.80" cy="30.60" r="1.02" fill="#111"/><path d="M402.80,29.04 L402.80,32.16 M401.45,29.82 L404.15,31.38 M401.45,31.38 L404.15,29.82" stroke="#111" stroke-width="0.7"/><circle cx="406.80" cy="30.60" r="1.02" fill="#111"/><path d="M406.80,29.04 L406.80,32.16 M405.45,29.82 L408.15,31.38 M405.45,31.38 L408.15,29.82" stroke="#111" stroke-width="0.7"/>
<path d="M447.60,83.60 L447.60,83.60 L447.85,83.60 L448.10,83.60 L448.35,83.60 L448.60,83.60 L448.85,83.60 L449.10,83.60 L449.35,83.60 L449.60,83.60 L449.85,83.60 L450.10,83.60 L450.35,83.60 L450.60,83.60 L450.85,83.60 L451.10,83.60 L451.35,83.60 L451.60,83.60 L451.85,83.60 L452.10,83.60 L452.35,83.60 L452.60,83.60 L452.85,83.60 L453.10,83.60 L453.35,83.60 L453.60,83.60 L453.85,83.60 L454.10,83.60 L454.35,83.60 L454.60,83.60 L454.85,83.60 L455.10,83.60 L455.35,83.60 L455.60,83.60 L455.85,83.60 L456.10,83.59 L456.35,83.59 L456.60,83.59 L456.85,83.59 L457.10,83.58 L457.35,83.58 L457.60,83.57 L457.85,83.57 L458.10,83.56 L458.35,83.55 L458.60,83.53 L458.85,83.51 L459.10,83.49 L459.35,83.46 L459.60,83.43 L459.85,83.38 L460.10,83.33 L460.35,83.27 L460.60,83.19 L460.85,83.10 L461.10,82.99 L461.35,82.86 L461.60,82.70 L461.85,82.52 L462.10,82.31 L462.35,82.06 L462.60,81.77 L462.85,81.44 L463.10,81.06 L463.35,80.62 L463.60,80.12 L463.85,79.56 L464.10,78.92 L464.35,78.21 L464.60,77.42 L464.85,76.54 L465.10,75.57 L465.35,74.51 L465.60,73.35 L465.85,72.10 L466.10,70.75 L466.35,69.30 L466.60,67.75 L466.85,66.11 L467.10,64.39 L467.35,62.59 L467.60,60.72 L467.85,58.79 L468.10,56.81 L468.35,54.81 L468.60,52.78 L468.85,50.75 L469.10,48.74 L469.35,46.77 L469.60,44.86 L469.85,43.02 L470.10,41.27 L470.35,39.64 L470.60,38.15 L470.85,36.80 L471.10,35.62 L471.35,34.62 L471.60,33.82 L471.85,33.22 L472.10,32.83 L472.35,32.65 L472.60,32.67 L472.85,32.86 L473.10,33.22 L473.35,33.74 L473.60,34.41 L473.85,35.22 L474.10,36.18 L474.35,37.26 L474.60,38.45 L474.85,39.75 L475.10,41.14 L475.35,42.61 L475.60,44.14 L475.85,45.72 L476.10,47.34 L476.35,48.98 L476.60,50.62 L476.85,52.27 L477.10,53.89 L477.35,55.49 L477.60,57.06 L477.85,58.57 L478.10,60.04 L478.35,61.44 L478.60,62.78 L478.85,64.06 L479.10,65.26 L479.35,66.38 L479.60,67.44 L479.85,68.41 L480.10,69.32 L480.35,70.16 L480.60,70.93 L480.85,71.63 L481.10,72.28 L481.35,72.87 L481.60,73.40 L481.85,73.89 L482.10,74.34 L482.35,74.75 L482.60,75.13 L482.85,75.48 L483.10,75.81 L483.35,76.12 L483.60,76.41 L483.85,76.68 L484.10,76.95 L484.35,77.21 L484.60,77.46 L484.85,77.71 L485.10,77.95 L485.35,78.19 L485.60,78.42 L485.85,78.65 L486.10,78.88 L486.35,79.09 L486.60,79.30 L486.85,79.50 L487.10,79.68 L487.35,79.85 L487.60,80.00 L487.85,80.14 L488.10,80.27 L488.35,80.38 L488.60,80.49 L488.85,80.59 L489.10,80.70 L489.35,80.81 L489.60,80.92 L489.85,81.06 L490.10,81.20 L490.35,81.36 L490.60,81.53 L490.85,81.72 L491.10,81.91 L491.35,82.10 L491.60,82.28 L491.85,82.46 L492.10,82.63 L492.35,82.78 L492.60,82.91 L492.85,83.03 L493.10,83.13 L493.35,83.22 L493.60,83.29 L493.85,83.34 L494.10,83.39 L494.35,83.43 L494.60,83.46 L494.85,83.49 L495.10,83.51 L495.35,83.52 L495.60,83.54 L495.85,83.55 L496.10,83.56 L496.35,83.56 L496.60,83.57 L496.85,83.58 L497.10,83.58 L497.35,83.58 L497.60,83.59 L497.85,83.59 L498.10,83.59 L498.35,83.59 L498.60,83.59 L498.85,83.60 L499.10,83.60 L499.35,83.60 L499.60,83.60 L499.85,83.60 L500.10,83.60 L500.35,83.60 L500.60,83.60 L500.85,83.60 L501.10,83.60 L501.35,83.60 L501.60,83.60 L501.85,83.60 L502.10,83.60 L502.35,83.60 L502.60,83.60 L502.85,83.60 L503.10,83.60 L503.35,83.60 L503.60,83.60 L503.85,83.60 L504.10,83.60 L504.35,83.60 L504.60,83.60 L504.85,83.60 L505.10,83.60 L505.35,83.60 L505.60,83.60 L505.85,83.60 L506.10,83.60 L506.35,83.60 L506.60,83.60 L506.85,83.60 L507.10,83.60 L507.35,83.60 L507.60,83.60 L507.85,83.60 L508.10,83.60 L508.35,83.60 L508.60,83.60 L508.85,83.60 L509.10,83.60 L509.35,83.60 L509.60,83.60 L509.85,83.60 L510.10,83.60 L510.35,83.60 L510.60,83.60 L510.85,83.60 L511.10,83.60 L511.35,83.60 L511.50,83.60 Z" fill="#c8c8cc" stroke="#000" stroke-width="0.95" stroke-linejoin="round"/>
<rect x="446.60" y="18.10" width="65.90" height="65.90" fill="none" stroke="#1a1a1a" stroke-width="1.15"/>
<line x1="443.90" y1="21.70" x2="446.60" y2="21.70" stroke="#111" stroke-width="0.9"/>
<line x1="444.90" y1="26.80" x2="446.60" y2="26.80" stroke="#111" stroke-width="0.9"/>
<line x1="444.90" y1="31.90" x2="446.60" y2="31.90" stroke="#111" stroke-width="0.9"/>
<line x1="443.90" y1="37.00" x2="446.60" y2="37.00" stroke="#111" stroke-width="0.9"/>
<line x1="444.90" y1="42.10" x2="446.60" y2="42.10" stroke="#111" stroke-width="0.9"/>
<line x1="444.90" y1="47.20" x2="446.60" y2="47.20" stroke="#111" stroke-width="0.9"/>
<line x1="443.90" y1="52.30" x2="446.60" y2="52.30" stroke="#111" stroke-width="0.9"/>
<line x1="444.90" y1="57.40" x2="446.60" y2="57.40" stroke="#111" stroke-width="0.9"/>
<line x1="444.90" y1="62.50" x2="446.60" y2="62.50" stroke="#111" stroke-width="0.9"/>
<line x1="443.90" y1="67.60" x2="446.60" y2="67.60" stroke="#111" stroke-width="0.9"/>
<line x1="444.90" y1="72.70" x2="446.60" y2="72.70" stroke="#111" stroke-width="0.9"/>
<line x1="444.90" y1="77.80" x2="446.60" y2="77.80" stroke="#111" stroke-width="0.9"/>
<line x1="443.90" y1="82.90" x2="446.60" y2="82.90" stroke="#111" stroke-width="0.9"/>
<line x1="449.10" y1="84.7" x2="511.50" y2="84.7" stroke="#000" stroke-width="0.9"/>
<line x1="450.30" y1="84.00" x2="450.30" y2="87.20" stroke="#000" stroke-width="1"/>
<line x1="460.60" y1="84.00" x2="460.60" y2="87.20" stroke="#000" stroke-width="1"/>
<line x1="471.90" y1="84.00" x2="471.90" y2="87.20" stroke="#000" stroke-width="1"/>
<line x1="489.70" y1="84.00" x2="489.70" y2="87.20" stroke="#000" stroke-width="1"/>
<line x1="505.60" y1="84.00" x2="505.60" y2="87.20" stroke="#000" stroke-width="1"/>
<line x1="477.26" y1="84.00" x2="477.26" y2="86.00" stroke="#111" stroke-width="0.8"/>
<line x1="494.49" y1="84.00" x2="494.49" y2="86.00" stroke="#111" stroke-width="0.8"/>
<line x1="480.39" y1="84.00" x2="480.39" y2="86.00" stroke="#111" stroke-width="0.8"/>
<line x1="497.29" y1="84.00" x2="497.29" y2="86.00" stroke="#111" stroke-width="0.8"/>
<line x1="482.62" y1="84.00" x2="482.62" y2="86.00" stroke="#111" stroke-width="0.8"/>
<line x1="499.27" y1="84.00" x2="499.27" y2="86.00" stroke="#111" stroke-width="0.8"/>
<line x1="484.34" y1="84.00" x2="484.34" y2="86.00" stroke="#111" stroke-width="0.8"/>
<line x1="500.81" y1="84.00" x2="500.81" y2="86.00" stroke="#111" stroke-width="0.8"/>
<line x1="485.75" y1="84.00" x2="485.75" y2="86.00" stroke="#111" stroke-width="0.8"/>
<line x1="502.07" y1="84.00" x2="502.07" y2="86.00" stroke="#111" stroke-width="0.8"/>
<line x1="486.94" y1="84.00" x2="486.94" y2="86.00" stroke="#111" stroke-width="0.8"/>
<line x1="503.14" y1="84.00" x2="503.14" y2="86.00" stroke="#111" stroke-width="0.8"/>
<line x1="487.98" y1="84.00" x2="487.98" y2="86.00" stroke="#111" stroke-width="0.8"/>
<line x1="504.06" y1="84.00" x2="504.06" y2="86.00" stroke="#111" stroke-width="0.8"/>
<line x1="488.89" y1="84.00" x2="488.89" y2="86.00" stroke="#111" stroke-width="0.8"/>
<line x1="504.87" y1="84.00" x2="504.87" y2="86.00" stroke="#111" stroke-width="0.8"/>
<line x1="452.36" y1="84.00" x2="452.36" y2="86.00" stroke="#111" stroke-width="0.8"/>
<line x1="462.86" y1="84.00" x2="462.86" y2="86.00" stroke="#111" stroke-width="0.8"/>
<line x1="454.42" y1="84.00" x2="454.42" y2="86.00" stroke="#111" stroke-width="0.8"/>
<line x1="465.12" y1="84.00" x2="465.12" y2="86.00" stroke="#111" stroke-width="0.8"/>
<line x1="456.48" y1="84.00" x2="456.48" y2="86.00" stroke="#111" stroke-width="0.8"/>
<line x1="467.38" y1="84.00" x2="467.38" y2="86.00" stroke="#111" stroke-width="0.8"/>
<line x1="458.54" y1="84.00" x2="458.54" y2="86.00" stroke="#111" stroke-width="0.8"/>
<line x1="469.64" y1="84.00" x2="469.64" y2="86.00" stroke="#111" stroke-width="0.8"/>
<line x1="459.00" y1="46.4" x2="488.50" y2="46.4" stroke="#222" stroke-width="1"/>
<line x1="459.00" y1="45.1" x2="459.00" y2="47.7" stroke="#222" stroke-width="1"/>
<line x1="488.50" y1="45.1" x2="488.50" y2="47.7" stroke="#222" stroke-width="1"/>
<text x="453.60" y="43.2" font-size="7.1" fill="#222" stroke="#222" stroke-width="0.05" textLength="40.30" lengthAdjust="spacingAndGlyphs">78.2 ± 20.5</text>
<line x1="94.3" y1="96.6" x2="284.8" y2="96.6" stroke="#111" stroke-width="1.4"/>
<text x="287.8" y="99.9" font-size="10.4" font-weight="bold" fill="#111" stroke="#111" stroke-width="0.15" textLength="16.2" lengthAdjust="spacingAndGlyphs">CFSE</text>
<line x1="308.2" y1="96.6" x2="499" y2="96.6" stroke="#111" stroke-width="1.4"/>
<path d="M505,96.6 L496.3,93.2 L498.5,96.6 L496.3,100.2 Z" fill="#000"/>
<text x="7.2" y="111.80" font-size="9.9" fill="#111" stroke="#111" stroke-width="0.08" textLength="87.20" lengthAdjust="spacingAndGlyphs">Naive CD4<tspan font-size="7.4" dy="-2.7">+</tspan><tspan dy="2.7"> T cells:</tspan></text>
<text x="7.2" y="125.80" font-size="9.9" fill="#111" stroke="#111" stroke-width="0.08" textLength="110.10" lengthAdjust="spacingAndGlyphs">Stimulated CD4<tspan font-size="7.4" dy="-2.7">+</tspan><tspan dy="2.7"> T cells:</tspan></text>
<text x="7.2" y="139.20" font-size="9.9" fill="#111" stroke="#111" stroke-width="0.08" textLength="51.40" lengthAdjust="spacingAndGlyphs">Monocytes:</text>
<text x="7.2" y="152.60" font-size="9.9" fill="#111" stroke="#111" stroke-width="0.08" textLength="30.30" lengthAdjust="spacingAndGlyphs">PAM3:</text>
<text x="7.2" y="165.90" font-size="9.9" fill="#111" stroke="#111" stroke-width="0.08" textLength="35.40" lengthAdjust="spacingAndGlyphs">M-CSF:</text>
<text x="7.2" y="179.20" font-size="9.9" fill="#111" stroke="#111" stroke-width="0.08" textLength="23.50" lengthAdjust="spacingAndGlyphs">IFNγ:</text>
<path d="M135.20,108.60 h6.4 M138.40,105.50 v6.2" stroke="#222" stroke-width="1"/>
<line x1="199.90" y1="108.60" x2="202.90" y2="108.60" stroke="#444" stroke-width="1"/>
<line x1="264.00" y1="108.60" x2="267.00" y2="108.60" stroke="#444" stroke-width="1"/>
<line x1="341.10" y1="108.60" x2="344.10" y2="108.60" stroke="#444" stroke-width="1"/>
<line x1="418.00" y1="108.60" x2="421.00" y2="108.60" stroke="#444" stroke-width="1"/>
<line x1="475.00" y1="108.60" x2="478.00" y2="108.60" stroke="#444" stroke-width="1"/>
<line x1="136.90" y1="122.80" x2="139.90" y2="122.80" stroke="#444" stroke-width="1"/>
<path d="M198.20,122.80 h6.4 M201.40,119.70 v6.2" stroke="#222" stroke-width="1"/>
<path d="M262.30,122.80 h6.4 M265.50,119.70 v6.2" stroke="#222" stroke-width="1"/>
<path d="M339.40,122.80 h6.4 M342.60,119.70 v6.2" stroke="#222" stroke-width="1"/>
<path d="M416.30,122.80 h6.4 M419.50,119.70 v6.2" stroke="#222" stroke-width="1"/>
<path d="M473.30,122.80 h6.4 M476.50,119.70 v6.2" stroke="#222" stroke-width="1"/>
<line x1="136.90" y1="136.40" x2="139.90" y2="136.40" stroke="#444" stroke-width="1"/>
<line x1="199.90" y1="136.40" x2="202.90" y2="136.40" stroke="#444" stroke-width="1"/>
<path d="M262.30,136.40 h6.4 M265.50,133.30 v6.2" stroke="#222" stroke-width="1"/>
<path d="M339.40,136.40 h6.4 M342.60,133.30 v6.2" stroke="#222" stroke-width="1"/>
<path d="M416.30,136.40 h6.4 M419.50,133.30 v6.2" stroke="#222" stroke-width="1"/>
<path d="M473.30,136.40 h6.4 M476.50,133.30 v6.2" stroke="#222" stroke-width="1"/>
<line x1="136.90" y1="149.90" x2="139.90" y2="149.90" stroke="#444" stroke-width="1"/>
<line x1="199.90" y1="149.90" x2="202.90" y2="149.90" stroke="#444" stroke-width="1"/>
<line x1="264.00" y1="149.90" x2="267.00" y2="149.90" stroke="#444" stroke-width="1"/>
<path d="M339.40,149.90 h6.4 M342.60,146.80 v6.2" stroke="#222" stroke-width="1"/>
<line x1="418.00" y1="149.90" x2="421.00" y2="149.90" stroke="#444" stroke-width="1"/>
<line x1="475.00" y1="149.90" x2="478.00" y2="149.90" stroke="#444" stroke-width="1"/>
<line x1="136.90" y1="163.70" x2="139.90" y2="163.70" stroke="#444" stroke-width="1"/>
<line x1="199.90" y1="163.70" x2="202.90" y2="163.70" stroke="#444" stroke-width="1"/>
<line x1="264.00" y1="163.70" x2="267.00" y2="163.70" stroke="#444" stroke-width="1"/>
<line x1="341.10" y1="163.70" x2="344.10" y2="163.70" stroke="#444" stroke-width="1"/>
<path d="M416.30,163.70 h6.4 M419.50,160.60 v6.2" stroke="#222" stroke-width="1"/>
<line x1="475.00" y1="163.70" x2="478.00" y2="163.70" stroke="#444" stroke-width="1"/>
<line x1="136.90" y1="177.00" x2="139.90" y2="177.00" stroke="#444" stroke-width="1"/>
<line x1="199.90" y1="177.00" x2="202.90" y2="177.00" stroke="#444" stroke-width="1"/>
<line x1="264.00" y1="177.00" x2="267.00" y2="177.00" stroke="#444" stroke-width="1"/>
<line x1="341.10" y1="177.00" x2="344.10" y2="177.00" stroke="#444" stroke-width="1"/>
<line x1="418.00" y1="177.00" x2="421.00" y2="177.00" stroke="#444" stroke-width="1"/>
<path d="M473.30,177.00 h6.4 M476.50,173.90 v6.2" stroke="#222" stroke-width="1"/>
<text x="70.6" y="217.3" font-size="12.2" font-weight="bold" fill="#000" stroke="#000" stroke-width="0.35">B</text>
<line x1="121.70" y1="220.4" x2="121.70" y2="325.90" stroke="#111" stroke-width="1.4"/>
<line x1="118.9" y1="325.30" x2="275.1" y2="325.30" stroke="#111" stroke-width="1.4"/>
<line x1="118.9" y1="325.30" x2="121.70" y2="325.30" stroke="#111" stroke-width="1"/>
<text x="115.2" y="328.10" font-size="8.4" fill="#222" stroke="#222" stroke-width="0.04" text-anchor="end" textLength="4.30" lengthAdjust="spacingAndGlyphs">0</text>
<line x1="118.9" y1="304.81" x2="121.70" y2="304.81" stroke="#111" stroke-width="1"/>
<text x="115.2" y="307.61" font-size="8.4" fill="#222" stroke="#222" stroke-width="0.04" text-anchor="end" textLength="9.80" lengthAdjust="spacingAndGlyphs">20</text>
<line x1="118.9" y1="284.32" x2="121.70" y2="284.32" stroke="#111" stroke-width="1"/>
<text x="115.2" y="287.12" font-size="8.4" fill="#222" stroke="#222" stroke-width="0.04" text-anchor="end" textLength="9.80" lengthAdjust="spacingAndGlyphs">40</text>
<line x1="118.9" y1="263.83" x2="121.70" y2="263.83" stroke="#111" stroke-width="1"/>
<text x="115.2" y="266.63" font-size="8.4" fill="#222" stroke="#222" stroke-width="0.04" text-anchor="end" textLength="9.80" lengthAdjust="spacingAndGlyphs">60</text>
<line x1="118.9" y1="243.34" x2="121.70" y2="243.34" stroke="#111" stroke-width="1"/>
<text x="115.2" y="246.14" font-size="8.4" fill="#222" stroke="#222" stroke-width="0.04" text-anchor="end" textLength="9.80" lengthAdjust="spacingAndGlyphs">80</text>
<line x1="118.9" y1="222.85" x2="121.70" y2="222.85" stroke="#111" stroke-width="1"/>
<text x="115.2" y="225.65" font-size="8.4" fill="#222" stroke="#222" stroke-width="0.04" text-anchor="end" textLength="13.90" lengthAdjust="spacingAndGlyphs">100</text>
<text transform="translate(95.2,299.6) rotate(-90)" font-size="9.9" fill="#1a1a1a" stroke="#1a1a1a" stroke-width="0.12" textLength="51.9" lengthAdjust="spacingAndGlyphs">% CD25<tspan font-size="6.5" dy="-3.4">+</tspan><tspan dy="3.4"> T cells</tspan></text>
<line x1="140.90" y1="302.20" x2="140.90" y2="310.60" stroke="#111" stroke-width="1.1"/>
<line x1="136.10" y1="302.20" x2="145.70" y2="302.20" stroke="#111" stroke-width="1.1"/>
<rect x="131.30" y="310.60" width="19.20" height="14.70" fill="#69b040"/>
<line x1="140.90" y1="325.30" x2="140.90" y2="328.90" stroke="#111" stroke-width="1"/>
<line x1="169.50" y1="256.40" x2="169.50" y2="265.30" stroke="#111" stroke-width="1.1"/>
<line x1="164.70" y1="256.40" x2="174.30" y2="256.40" stroke="#111" stroke-width="1.1"/>
<rect x="160.00" y="265.30" width="19.00" height="60.00" fill="#fff" stroke="#88a86c" stroke-width="1.2"/>
<line x1="169.50" y1="325.30" x2="169.50" y2="328.90" stroke="#111" stroke-width="1"/>
<line x1="198.20" y1="246.60" x2="198.20" y2="257.30" stroke="#111" stroke-width="1.1"/>
<line x1="193.40" y1="246.60" x2="203.00" y2="246.60" stroke="#111" stroke-width="1.1"/>
<rect x="188.60" y="257.30" width="19.20" height="68.00" fill="#2e4d80"/>
<line x1="198.20" y1="325.30" x2="198.20" y2="328.90" stroke="#111" stroke-width="1"/>
<line x1="226.90" y1="244.40" x2="226.90" y2="251.90" stroke="#111" stroke-width="1.1"/>
<line x1="222.10" y1="244.40" x2="231.70" y2="244.40" stroke="#111" stroke-width="1.1"/>
<rect x="217.30" y="251.90" width="19.20" height="73.40" fill="#a80023"/>
<line x1="226.90" y1="325.30" x2="226.90" y2="328.90" stroke="#111" stroke-width="1"/>
<line x1="255.50" y1="253.40" x2="255.50" y2="261.00" stroke="#111" stroke-width="1.1"/>
<line x1="250.70" y1="253.40" x2="260.30" y2="253.40" stroke="#111" stroke-width="1.1"/>
<rect x="245.90" y="261.00" width="19.20" height="64.30" fill="url(#hatch)"/>
<line x1="255.50" y1="325.30" x2="255.50" y2="328.90" stroke="#111" stroke-width="1"/>
<circle cx="167.43" cy="251.60" r="1.06" fill="#111"/><path d="M167.43,249.97 L167.43,253.22 M166.02,250.79 L168.83,252.41 M166.02,252.41 L168.83,250.79" stroke="#111" stroke-width="0.7"/><circle cx="171.38" cy="251.60" r="1.06" fill="#111"/><path d="M171.38,249.97 L171.38,253.22 M169.97,250.79 L172.78,252.41 M169.97,252.41 L172.78,250.79" stroke="#111" stroke-width="0.7"/>
<circle cx="196.12" cy="240.10" r="1.06" fill="#111"/><path d="M196.12,238.47 L196.12,241.72 M194.72,239.29 L197.53,240.91 M194.72,240.91 L197.53,239.29" stroke="#111" stroke-width="0.7"/><circle cx="200.07" cy="240.10" r="1.06" fill="#111"/><path d="M200.07,238.47 L200.07,241.72 M198.67,239.29 L201.48,240.91 M198.67,240.91 L201.48,239.29" stroke="#111" stroke-width="0.7"/>
<circle cx="224.83" cy="239.80" r="1.06" fill="#111"/><path d="M224.83,238.18 L224.83,241.43 M223.42,238.99 L226.23,240.61 M223.42,240.61 L226.23,238.99" stroke="#111" stroke-width="0.7"/><circle cx="228.78" cy="239.80" r="1.06" fill="#111"/><path d="M228.78,238.18 L228.78,241.43 M227.37,238.99 L230.18,240.61 M227.37,240.61 L230.18,238.99" stroke="#111" stroke-width="0.7"/>
<circle cx="253.43" cy="248.30" r="1.06" fill="#111"/><path d="M253.43,246.68 L253.43,249.93 M252.02,247.49 L254.83,249.11 M252.02,249.11 L254.83,247.49" stroke="#111" stroke-width="0.7"/><circle cx="257.38" cy="248.30" r="1.06" fill="#111"/><path d="M257.38,246.68 L257.38,249.93 M255.97,247.49 L258.78,249.11 M255.97,249.11 L258.78,247.49" stroke="#111" stroke-width="0.7"/>
<line x1="118.9" y1="325.30" x2="275.1" y2="325.30" stroke="#111" stroke-width="1.4"/>
<text transform="translate(144.70,336.00) rotate(-45)" font-size="8.2" fill="#1a1a1a" stroke="#1a1a1a" stroke-width="0.1" text-anchor="end">T cells</text>
<text transform="translate(173.30,336.00) rotate(-45)" font-size="8.2" fill="#1a1a1a" stroke="#1a1a1a" stroke-width="0.1" text-anchor="end">No Rx</text>
<text transform="translate(202.00,336.00) rotate(-45)" font-size="8.2" fill="#1a1a1a" stroke="#1a1a1a" stroke-width="0.1" text-anchor="end">PAM3</text>
<text transform="translate(230.70,336.00) rotate(-45)" font-size="8.2" fill="#1a1a1a" stroke="#1a1a1a" stroke-width="0.1" text-anchor="end">M-CSF</text>
<text transform="translate(259.30,336.00) rotate(-45)" font-size="8.2" fill="#1a1a1a" stroke="#1a1a1a" stroke-width="0.1" text-anchor="end">IFNγ</text>
<text x="292.0" y="217.4" font-size="12.2" font-weight="bold" fill="#000" stroke="#000" stroke-width="0.35">C</text>
<line x1="332.60" y1="220.0" x2="332.60" y2="325.9" stroke="#111" stroke-width="1.4"/>
<line x1="329.1" y1="325.4" x2="485.6" y2="325.4" stroke="#111" stroke-width="1.4"/>
<line x1="332.60" y1="264.10" x2="485.8" y2="264.10" stroke="#111" stroke-width="1.4"/>
<line x1="329.1" y1="222.78" x2="332.60" y2="222.78" stroke="#111" stroke-width="1"/>
<text x="325.6" y="225.68" font-size="8.4" fill="#222" stroke="#222" stroke-width="0.04" text-anchor="end" textLength="4.7" lengthAdjust="spacingAndGlyphs">4</text>
<line x1="329.1" y1="243.44" x2="332.60" y2="243.44" stroke="#111" stroke-width="1"/>
<text x="325.6" y="246.34" font-size="8.4" fill="#222" stroke="#222" stroke-width="0.04" text-anchor="end" textLength="4.7" lengthAdjust="spacingAndGlyphs">2</text>
<line x1="329.1" y1="264.10" x2="332.60" y2="264.10" stroke="#111" stroke-width="1"/>
<text x="325.6" y="267.00" font-size="8.4" fill="#222" stroke="#222" stroke-width="0.04" text-anchor="end" textLength="4.7" lengthAdjust="spacingAndGlyphs">0</text>
<line x1="329.1" y1="284.76" x2="332.60" y2="284.76" stroke="#111" stroke-width="1"/>
<text x="325.6" y="287.66" font-size="8.4" fill="#222" stroke="#222" stroke-width="0.04" text-anchor="end" textLength="4.7" lengthAdjust="spacingAndGlyphs">2</text>
<line x1="329.1" y1="305.42" x2="332.60" y2="305.42" stroke="#111" stroke-width="1"/>
<text x="325.6" y="308.32" font-size="8.4" fill="#222" stroke="#222" stroke-width="0.04" text-anchor="end" textLength="4.7" lengthAdjust="spacingAndGlyphs">4</text>
<line x1="329.1" y1="326.08" x2="332.60" y2="326.08" stroke="#111" stroke-width="1"/>
<text x="325.6" y="328.98" font-size="8.4" fill="#222" stroke="#222" stroke-width="0.04" text-anchor="end" textLength="4.7" lengthAdjust="spacingAndGlyphs">6</text>
<text transform="translate(313.2,303.4) rotate(-90)" font-size="9.9" fill="#1a1a1a" stroke="#1a1a1a" stroke-width="0.12" textLength="61.1" lengthAdjust="spacingAndGlyphs">IL-4<tspan font-size="6.5" dy="-3.4">+</tspan><tspan dy="3.4">/IFNγ</tspan><tspan font-size="6.5" dy="-3.4">+</tspan><tspan dy="3.4"> T cells</tspan></text>
<line x1="351.70" y1="249.00" x2="351.70" y2="254.90" stroke="#111" stroke-width="1.1"/>
<line x1="346.90" y1="249.00" x2="356.50" y2="249.00" stroke="#111" stroke-width="1.1"/>
<rect x="342.10" y="254.90" width="19.20" height="9.20" fill="#69b040"/>
<line x1="351.70" y1="325.4" x2="351.70" y2="328.9" stroke="#111" stroke-width="1"/>
<line x1="380.40" y1="303.60" x2="380.40" y2="294.80" stroke="#111" stroke-width="1.1"/>
<line x1="375.60" y1="303.60" x2="385.20" y2="303.60" stroke="#111" stroke-width="1.1"/>
<rect x="370.90" y="264.10" width="19" height="30.70" fill="#fff" stroke="#88a86c" stroke-width="1.2"/>
<line x1="380.40" y1="325.4" x2="380.40" y2="328.9" stroke="#111" stroke-width="1"/>
<line x1="409.00" y1="250.60" x2="409.00" y2="252.40" stroke="#111" stroke-width="1.1"/>
<line x1="404.20" y1="250.60" x2="413.80" y2="250.60" stroke="#111" stroke-width="1.1"/>
<rect x="399.40" y="252.40" width="19.20" height="11.70" fill="#2e4d80"/>
<line x1="409.00" y1="325.4" x2="409.00" y2="328.9" stroke="#111" stroke-width="1"/>
<line x1="437.70" y1="235.00" x2="437.70" y2="238.80" stroke="#111" stroke-width="1.1"/>
<line x1="432.90" y1="235.00" x2="442.50" y2="235.00" stroke="#111" stroke-width="1.1"/>
<rect x="428.10" y="238.80" width="19.20" height="25.30" fill="#a80023"/>
<line x1="437.70" y1="325.4" x2="437.70" y2="328.9" stroke="#111" stroke-width="1"/>
<line x1="466.30" y1="286.10" x2="466.30" y2="281.80" stroke="#111" stroke-width="1.1"/>
<line x1="461.50" y1="286.10" x2="471.10" y2="286.10" stroke="#111" stroke-width="1.1"/>
<rect x="456.70" y="264.10" width="19.20" height="17.70" fill="url(#hatch)"/>
<line x1="466.30" y1="325.4" x2="466.30" y2="328.9" stroke="#111" stroke-width="1"/>
<line x1="332.60" y1="264.10" x2="485.8" y2="264.10" stroke="#111" stroke-width="1.4"/>
<circle cx="409.00" cy="245.00" r="1.06" fill="#111"/><path d="M409.00,243.38 L409.00,246.62 M407.59,244.19 L410.41,245.81 M407.59,245.81 L410.41,244.19" stroke="#111" stroke-width="0.7"/>
<circle cx="435.82" cy="229.80" r="1.06" fill="#111"/><path d="M435.82,228.18 L435.82,231.43 M434.42,228.99 L437.23,230.61 M434.42,230.61 L437.23,228.99" stroke="#111" stroke-width="0.7"/><circle cx="439.77" cy="229.80" r="1.06" fill="#111"/><path d="M439.77,228.18 L439.77,231.43 M438.37,228.99 L441.18,230.61 M438.37,230.61 L441.18,228.99" stroke="#111" stroke-width="0.7"/>
<path d="M405.8,223.4 L405.8,219.6 Q405.8,217.3 408.2,217.3 L417.6,217.3 Q420,217.3 420,214.8 L420,209.9 M420,214.8 Q420,217.3 422.4,217.3 L431.9,217.3 Q434.3,217.3 434.3,219.6 L434.3,223.4" fill="none" stroke="#111" stroke-width="1.1"/>
<path d="M418.1,203.6 h4.2 M420.2,201.5 v4.2" stroke="#222" stroke-width="0.9"/>
<text transform="translate(355.50,336.00) rotate(-45)" font-size="8.2" fill="#1a1a1a" stroke="#1a1a1a" stroke-width="0.1" text-anchor="end">T cells</text>
<text transform="translate(384.20,336.00) rotate(-45)" font-size="8.2" fill="#1a1a1a" stroke="#1a1a1a" stroke-width="0.1" text-anchor="end">No Rx</text>
<text transform="translate(412.80,336.00) rotate(-45)" font-size="8.2" fill="#1a1a1a" stroke="#1a1a1a" stroke-width="0.1" text-anchor="end">PAM3</text>
<text transform="translate(441.50,336.00) rotate(-45)" font-size="8.2" fill="#1a1a1a" stroke="#1a1a1a" stroke-width="0.1" text-anchor="end">M-CSF</text>
<text transform="translate(470.10,336.00) rotate(-45)" font-size="8.2" fill="#1a1a1a" stroke="#1a1a1a" stroke-width="0.1" text-anchor="end">IFNγ</text>
<rect x="0.75" y="0.75" width="518.5" height="364.5" fill="none" stroke="#000" stroke-width="1.5"/>
<rect x="518.3" y="0" width="1.7" height="366" fill="#000"/>
<rect x="0" y="364" width="520" height="2" fill="#000"/>
</svg></body></html>
